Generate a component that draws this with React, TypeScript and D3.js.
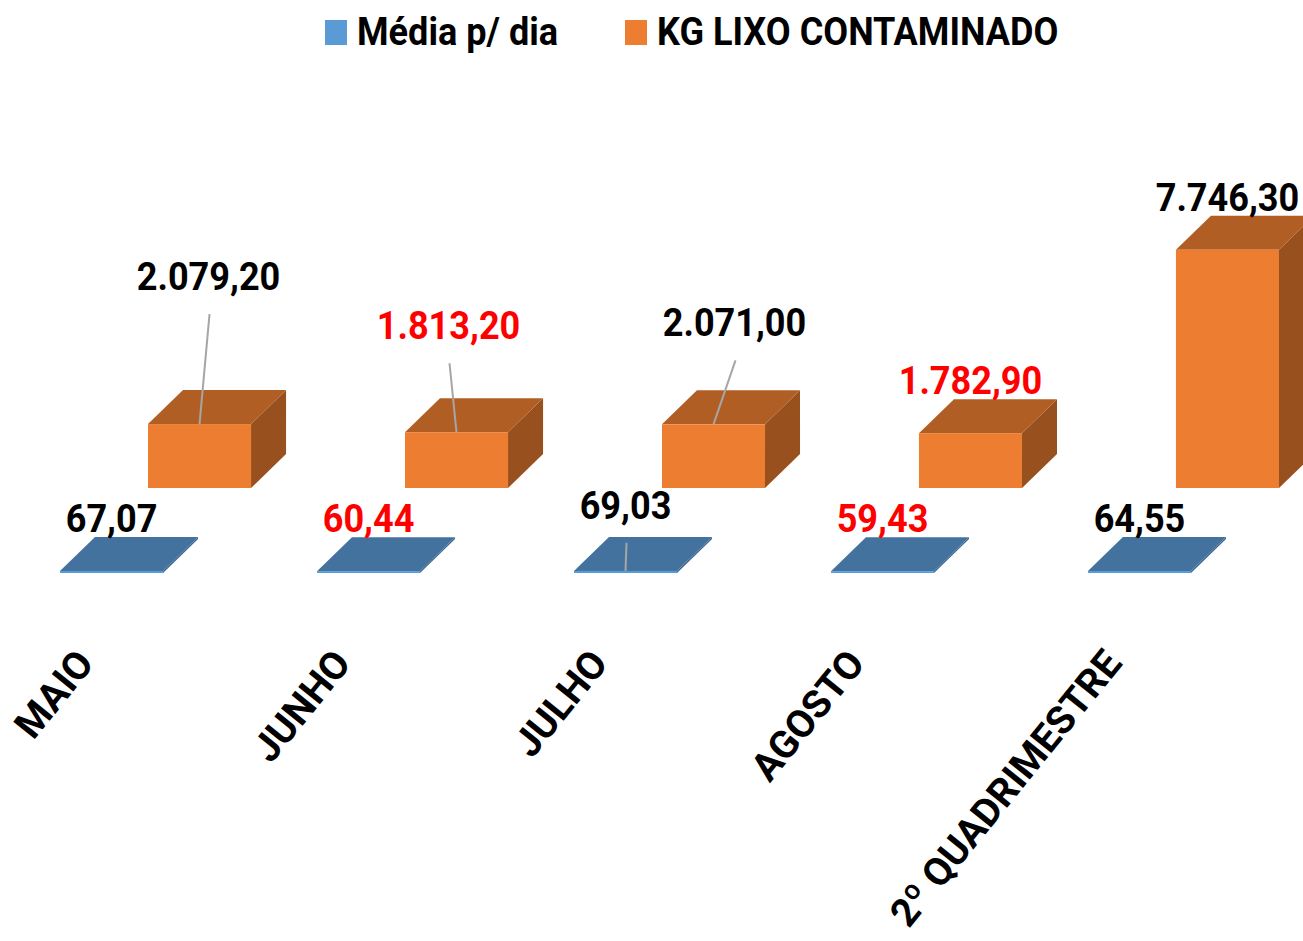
import React, { useRef, useEffect } from "react";
import * as d3 from "d3";

// chart data
const categories = ["MAIO", "JUNHO", "JULHO", "AGOSTO", "2º QUADRIMESTRE"];
const mediaDia = [67.07, 60.44, 69.03, 59.43, 64.55];
const kgLixo = [2079.2, 1813.2, 2071.0, 1782.9, 7746.3];
const seriesNames = ["Média p/ dia", "KG LIXO CONTAMINADO"];
const redCategories = ["JUNHO", "AGOSTO"];

// manual label moves (dx, dy from default spot) + whether a leader line is drawn
const orangeLabelMove: [number, number, boolean][] = [
  [9, -95, true],
  [-8, -54, true],
  [21, -49, true],
  [0, 0, false],
  [0, 0, false],
];
const blueLabelMove: [number, number, boolean][] = [
  [0, 0, false],
  [0, 0, false],
  [0, -13, true],
  [0, 0, false],
  [0, 0, false],
];

const W = 1303;
const H = 941;
const FONT = "Roboto, 'Open Sans', sans-serif";

const blueC = { front: "#5B9BD5", top: "#44729E", side: "#3A6590" };
const orangeC = { front: "#ED7D31", top: "#B15E24", side: "#98501E" };

const fmt = (v: number) => {
  const [i, d] = v.toFixed(2).split(".");
  return i.replace(/\B(?=(\d{3})+(?!\d))/g, ".") + "," + d;
};

const App: React.FC = () => {
  const svgRef = useRef<SVGSVGElement>(null);

  useEffect(() => {
    if (!svgRef.current) return;
    const svg = d3.select(svgRef.current);
    svg.selectAll("*").remove();

    // 3D geometry
    const floorY = 573; // front edge of the floor (front row)
    const depthX = 35; // bar depth projection
    const depthY = 34;
    const rowX = 88; // shift from front row to back row
    const rowY = 85;

    const x = d3
      .scaleBand<string>()
      .domain(categories)
      .range([60, 1191])
      .paddingInner(0.599)
      .paddingOuter(0);
    const bw = x.bandwidth();

    const h = d3.scaleLinear().domain([0, 8000]).range([0, 246]);

    const drawBox = (
      g: d3.Selection<SVGGElement, unknown, null, undefined>,
      x0: number,
      base: number,
      height: number,
      c: { front: string; top: string; side: string }
    ) => {
      const top = base - height;
      g.append("polygon")
        .attr(
          "points",
          [
            [x0 + bw, base],
            [x0 + bw, top],
            [x0 + bw + depthX, top - depthY],
            [x0 + bw + depthX, base - depthY],
          ].join(" ")
        )
        .attr("fill", c.side);
      g.append("polygon")
        .attr(
          "points",
          [
            [x0, top],
            [x0 + bw, top],
            [x0 + bw + depthX, top - depthY],
            [x0 + depthX, top - depthY],
          ].join(" ")
        )
        .attr("fill", c.top);
      g.append("rect")
        .attr("x", x0)
        .attr("y", top)
        .attr("width", bw)
        .attr("height", Math.max(height, 1.5))
        .attr("fill", c.front);
    };

    const bars = svg.append("g");
    // back row: orange
    categories.forEach((cat, i) => {
      drawBox(bars, x(cat)! + rowX, floorY - rowY, h(kgLixo[i]), orangeC);
    });
    // front row: blue
    categories.forEach((cat, i) => {
      drawBox(bars, x(cat)!, floorY, h(mediaDia[i]), blueC);
    });

    const labels = svg.append("g");
    const addLabel = (
      cx: number,
      base: number,
      txt: string,
      color: string,
      size = 38,
      anchor = "middle"
    ) =>
      labels
        .append("text")
        .attr("transform", `translate(${cx},${base}) scale(0.95,1)`)
        .attr("text-anchor", anchor)
        .style("font-family", FONT)
        .style("font-weight", "bold")
        .style("font-size", `${size}px`)
        .attr("fill", color)
        .text(txt);

    const series = [
      { vals: kgLixo, move: orangeLabelMove, offX: rowX, offY: rowY },
      { vals: mediaDia, move: blueLabelMove, offX: 0, offY: 0 },
    ];
    series.forEach((s) => {
      categories.forEach((cat, i) => {
        const fc = x(cat)! + s.offX + bw / 2;
        const frontTop = floorY - s.offY - h(s.vals[i]);
        const [mx, my, leader] = s.move[i];
        const lx = fc + mx;
        const ly = frontTop - depthY - 5 + my;
        if (leader) {
          labels
            .append("line")
            .attr("x1", lx + 1)
            .attr("y1", ly + 24)
            .attr("x2", fc)
            .attr("y2", frontTop)
            .attr("stroke", "#A6A6A6")
            .attr("stroke-width", 2);
        }
        addLabel(
          lx,
          ly,
          fmt(s.vals[i]),
          redCategories.includes(cat) ? "#FF0000" : "#000000"
        );
      });
    });

    // category axis labels
    categories.forEach((cat) => {
      const ax = x(cat)! + bw / 2 - 16;
      svg
        .append("text")
        .attr("transform", `translate(${ax},664) rotate(-51)`)
        .attr("text-anchor", "end")
        .style("font-family", FONT)
        .style("font-weight", "bold")
        .style("font-size", "39px")
        .attr("fill", "#000")
        .text(cat);
    });

    // legend
    const legend = svg.append("g");
    const legendX = [325, 625];
    [blueC.front, orangeC.front].forEach((col, i) => {
      legend
        .append("rect")
        .attr("x", legendX[i])
        .attr("y", 20)
        .attr("width", 22)
        .attr("height", 25)
        .attr("fill", col);
      legend
        .append("text")
        .attr("transform", `translate(${legendX[i] + 32},45) scale(0.95,1)`)
        .style("font-family", FONT)
        .style("font-weight", "bold")
        .style("font-size", "38px")
        .attr("fill", "#000")
        .text(seriesNames[i]);
    });
  }, []);

  return (
    <svg
      ref={svgRef}
      width={W}
      height={H}
      style={{ position: "absolute", left: 0, top: 0, background: "#fff" }}
    />
  );
};

export default App;
